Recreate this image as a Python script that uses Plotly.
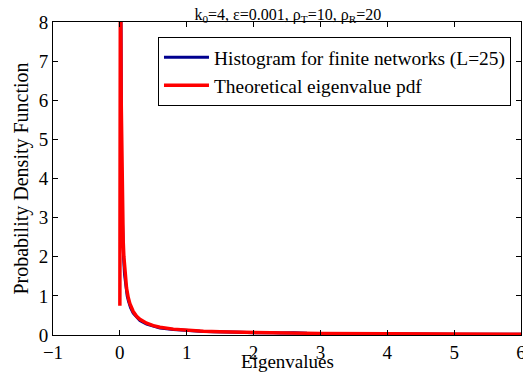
import plotly.graph_objects as go

# Theoretical eigenvalue pdf (red)
theo_x = [0, 0.01, 0.015, 0.02, 0.03, 0.04, 0.05, 0.06, 0.08, 0.1, 0.125, 0.15, 0.2, 0.25, 0.3,
          0.4, 0.5, 0.6, 0.8, 1.0, 1.25, 1.5, 2.0, 2.5, 3.0, 4.0, 5.0, 6.0]
theo_y = [0.75, 12.0, 8.0, 6.0, 4.0, 3.0, 2.4, 2.0, 1.5, 1.2, 0.96, 0.8, 0.6, 0.48, 0.4,
          0.3, 0.24, 0.2, 0.15, 0.12, 0.095, 0.08, 0.06, 0.048, 0.04, 0.03, 0.024, 0.02]

# Histogram for finite networks (blue)
hist_x = [0.005, 0.015, 0.025, 0.035, 0.045, 0.055, 0.07, 0.09, 0.11, 0.13, 0.16, 0.2, 0.25, 0.3,
          0.4, 0.5, 0.6, 0.8, 1.0, 1.2, 1.4, 1.6, 1.8, 2.0, 2.2, 2.4, 2.6, 2.8, 3.0, 3.3, 3.6,
          4.0, 4.5, 5.0, 5.5, 6.0]
hist_y = [14.0, 7.0, 4.3, 3.1, 2.4, 2.0, 1.55, 1.22, 1.0, 0.86, 0.7, 0.56, 0.45, 0.37,
          0.28, 0.22, 0.18, 0.14, 0.11, 0.095, 0.085, 0.07, 0.07, 0.06, 0.065, 0.05, 0.06, 0.045, 0.045, 0.04, 0.035,
          0.03, 0.026, 0.022, 0.02, 0.018]

x_ticks = [-1, 0, 1, 2, 3, 4, 5, 6]
y_ticks = [0, 1, 2, 3, 4, 5, 6, 7, 8]

FONT = "Liberation Serif, Times New Roman, serif"

fig = go.Figure()
fig.add_trace(go.Scatter(x=hist_x, y=hist_y, mode="lines",
                         line=dict(color="#00008F", width=3),
                         name="Histogram for finite networks (L=25)"))
fig.add_trace(go.Scatter(x=theo_x, y=theo_y, mode="lines",
                         line=dict(color="#FF0000", width=3.5),
                         name="Theoretical eigenvalue pdf"))

axis_common = dict(showline=True, linecolor="black", linewidth=1, mirror="ticks",
                   ticks="inside", ticklen=5, tickcolor="black", showgrid=False,
                   zeroline=False, automargin=False,
                   tickfont=dict(family=FONT, size=19, color="black"))

# The page body adds an 8px offset, so the figure is 8px smaller than the window.
fig.update_layout(
    width=523, height=370,
    margin=dict(l=45, r=10, t=14, b=43),
    paper_bgcolor="white", plot_bgcolor="white",
    font=dict(family=FONT, color="black"),
    title=dict(text="k<sub>0</sub>=4, ε=0.001, ρ<sub>T</sub>=10, ρ<sub>R</sub>=20",
               x=0.535, xanchor="center", y=0.998, yanchor="top", automargin=False,
               pad=dict(t=0, b=0),
               font=dict(family=FONT, size=16, color="black")),
    xaxis=dict(range=[-1, 6], tickvals=x_ticks, **axis_common),
    yaxis=dict(range=[0, 8], tickvals=y_ticks,
               title=dict(text="Probability Density Function", standoff=4,
                          font=dict(family=FONT, size=20, color="black")),
               **axis_common),
    legend=dict(x=0.9786, y=0.952, xanchor="right", yanchor="top",
                bordercolor="black", borderwidth=1, bgcolor="white",
                font=dict(family=FONT, size=19.4, color="black"),
                itemwidth=45, tracegroupgap=0),
    showlegend=True,
)
fig.add_annotation(text="Eigenvalues", xref="paper", yref="paper", x=0.5, y=-0.086,
                   xanchor="center", yanchor="middle", showarrow=False,
                   font=dict(family=FONT, size=19, color="black"))

fig.write_html("out.html")
